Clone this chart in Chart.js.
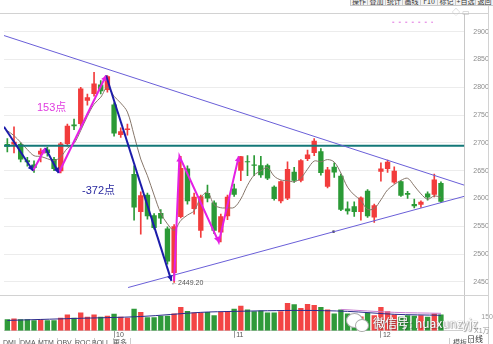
<!DOCTYPE html>
<html>
<head>
<meta charset="utf-8">
<script src="https://cdn.jsdelivr.net/npm/chart.js@4.4.0/dist/chart.umd.min.js"></script>
<style>
  html, body { margin: 0; padding: 0; background: #fff; }
  #wrap { position: relative; width: 493px; height: 344px; overflow: hidden;
          font-family: "Liberation Sans", Arial, "Noto Sans CJK SC", sans-serif; }
  canvas { position: absolute; left: 0; top: 0; }
  .tb { position: absolute; top: -4px; height: 10px; border: 1px solid #c9c9c9; background: #f3f3f3;
        font-size: 7px; line-height: 8px; text-align: center; color: #333; box-sizing: border-box;
        white-space: nowrap; overflow: hidden; font-family: "Noto Sans CJK SC", sans-serif; }
  .tab { position: absolute; top: 338px; height: 10px; font-size: 7px; line-height: 9px; color: #555;
         border-right: 1px solid #ccc; padding: 0 3px; box-sizing: border-box; white-space: nowrap; }
  .note { position: absolute; white-space: nowrap; font-family: "Liberation Sans", "Noto Sans CJK SC", sans-serif; }
  .wm { position: absolute; left: 373px; top: 314px; font-size: 12px; color: #fff; white-space: nowrap;
        font-family: "Noto Sans CJK SC", sans-serif; text-shadow: 0 0 1px #666, 1px 1px 1px rgba(0,0,0,0.35); }
  .logo { position: absolute; border-radius: 50%; background: #fff; border: 1px solid #aaa; }
</style>
</head>
<body>
<div id="wrap">
  <canvas id="chart" width="493" height="344"></canvas>

  <div class="tb" style="left:350px;width:18px">操作</div>
  <div class="tb" style="left:367px;width:19px">叠加</div>
  <div class="tb" style="left:385px;width:18px">统计</div>
  <div class="tb" style="left:402px;width:19px">画线</div>
  <div class="tb" style="left:420px;width:18px">F10</div>
  <div class="tb" style="left:437px;width:19px">标记</div>
  <div class="tb" style="left:455px;width:21px">+自选</div>
  <div class="tb" style="left:475px;width:19px">返回</div>

  <div class="note" style="left:452px;top:6px;font-size:8px;color:#bbb">◇ ▭</div>

  <div class="note" style="left:37px;top:98px;font-size:11px;color:#e03ce0">153点</div>
  <div class="note" style="left:82px;top:181px;font-size:11px;color:#2a2aa0">-372点</div>
  <div class="note" style="left:171px;top:279px;font-size:7px;color:#555">←2449.20</div>

  <div class="note" style="left:474px;top:325px;font-size:7px;color:#999">X1万</div>
  <div class="note" style="left:467px;top:333px;font-size:8px;color:#333;font-family:'Noto Sans CJK SC'">日线</div>

  <div class="tab" style="left:0px">DMI</div>
  <div class="tab" style="left:17px">DMA</div>
  <div class="tab" style="left:35px">MTM</div>
  <div class="tab" style="left:54px">OBV</div>
  <div class="tab" style="left:72px">ROC</div>
  <div class="tab" style="left:89px">BOLL</div>
  <div class="tab" style="left:110px;font-family:'Noto Sans CJK SC'">更多</div>
  <div class="tab" style="left:449px;border-left:1px solid #ccc;font-family:'Noto Sans CJK SC'">模板</div>

  <div class="logo" style="left:346px;top:313px;width:15px;height:13px"></div>
  <div class="logo" style="left:355px;top:319px;width:12px;height:11px"></div>
  <div class="wm">微信号: huaxunzyjz</div>
</div>

<script>
'use strict';

// ── DATA ─────────────────────────────────────────────────────

const DATES = [
  '09-06','09-07','09-10','09-11','09-12','09-13','09-14','09-17','09-18','09-19','09-20','09-21','09-25','09-26','09-27','09-28',
  '10-08','10-09','10-10','10-11','10-12','10-15','10-16','10-17','10-18','10-19','10-22','10-23','10-24','10-25','10-26','10-29','10-30','10-31',
  '11-01','11-02','11-05','11-06','11-07','11-08','11-09','11-12','11-13','11-14','11-15','11-16','11-19','11-20','11-21','11-22','11-23','11-26','11-27','11-28','11-29','11-30',
  '12-03','12-04','12-05','12-06','12-07','12-10','12-11','12-12','12-13','12-14',
];

const OPEN  = [2698,2697,2698,2669,2661,2679,2688,2671,2649,2698,2733,2734,2776,2788,2805,2795,
               2769,2714,2723,2644,2576,2607,2570,2574,2546,2466,2567,2654,2581,2542,2610,2593,2539,2568,
               2618,2650,2666,2661,2660,2660,2621,2595,2600,2648,2632,2671,2682,2685,2621,2657,2641,2582,2586,2576,2614,2566,
               2648,2653,2629,2631,2610,2590,2589,2609,2607,2628];
const HIGH  = [2708,2729,2700,2674,2668,2690,2692,2674,2701,2734,2743,2800,2788,2827,2812,2821.2,
               2772,2727,2734,2659,2612,2610,2573,2580,2549,2553,2676,2659,2610,2606,2624,2596,2572,2606,
               2626,2676,2677,2677,2676,2662,2623,2632,2666,2656,2670,2687,2708,2690,2656,2664,2644,2594,2594,2603,2616,2590,
               2664,2669,2657,2632,2613,2599,2596,2612,2644,2630];
const LOW   = [2684,2682,2666,2658,2647,2666,2676,2650,2646,2694,2724,2730,2768,2784,2788,2791,
               2712,2710,2714,2561,2536,2563,2545,2555,2482,2449.2,2565,2590,2572,2530,2594,2537,2522,2562,
               2604,2632,2641,2641,2638,2634,2597,2592,2598,2629,2630,2668,2677,2642,2619,2638,2578,2572,2568,2561,2566,2557,
               2631,2647,2627,2604,2600,2583,2584,2597,2603,2593];
const CLOSE = [2693,2702,2670,2665,2655,2686,2682,2653,2699,2731,2730,2798,2782,2807,2793,2820,
               2717,2721,2726,2584,2606,2568,2547,2564,2487,2550,2655,2595,2603,2604,2600,2542,2568,2603,
               2607,2676,2665,2659,2642,2636,2599,2631,2653,2632,2669,2679,2704,2646,2652,2647,2580,2577,2576,2602,2568,2588,
               2654,2666,2650,2605,2607,2586,2594,2602,2634,2594];

// 5-day average as plotted (thin line)
const MA5 = [2722,2713,2701,2688,2677,2675.6,2671.6,2668.2,2675,2690.2,2699,2722.2,2748,2769.6,2782,2800,
             2783.8,2771.6,2755.4,2713.6,2670.8,2641,2606.2,2573.8,2554.4,2543.2,2560.6,2570.2,2578,2601.4,2611.4,2588.8,2583.4,2583.4,
             2584,2599.2,2623.8,2642,2649.8,2655.6,2640.2,2633.4,2632.2,2630.2,2636.8,2652.8,2667.4,2666,2670,2665.6,2645.8,2620.4,2606.4,2596.4,2580.6,2582.2,
             2597.6,2615.6,2625.2,2632.6,2636.4,2622.8,2608.4,2598.8,2604.6,2602];

const VOLUME = [13100,13900,13100,13100,12000,13100,12000,12000,14700,18300,14700,20500,15800,18300,15800,16900,
                19100,15800,14700,24900,21200,15300,15300,16900,16900,19400,26700,22300,20500,20500,21200,17500,21200,22300,
                24900,28100,24100,21900,23000,20500,20500,21900,31400,30000,25600,30300,29200,26700,24100,19400,24100,19400,15800,16000,20500,17500,
                26700,21900,18300,15800,17500,16900,17500,15800,19400,18300];

const VOL_MA_A = [[0,11700],[10,13900],[20,16100],[29,20800],[34,21900],[44,23000],[51,21900],[58,18600],[65,17500]];
const VOL_MA_B = [[50,24100],[58,20800],[65,19700]];

const PRICE_TICKS = [2450,2475,2500,2525,2550,2575,2600,2625,2650,2675,2700,2725,2750,2775,2800,2825,2850,2875,2900];
const VOL_TICKS = [15000];

const UPPER_TREND = [[-0.5, 2893], [68.5, 2624]];
const LOWER_TREND = [[18.1, 2440], [68.5, 2604]];
const LEVEL_LINE = 2695;
const ANCHOR = [[48.9, 2540.3]];
const PINK_DASH = [[57.7, 2917], [63.8, 2917]];

const BLUE_LEGS = [
  [[-0.5, 2729], [3.85, 2650]],
  [[5.7, 2691], [7.7, 2646]],
  [[14.8, 2821.2], [24.6, 2452]],
];
const MAGENTA_LEGS = [
  [[3.85, 2650], [5.7, 2691]],
  [[7.7, 2646], [14.8, 2821.2]],
  [[25, 2452], [25.8, 2676], [31.7, 2521.6], [34.7, 2676]],
];

// ── STYLE ────────────────────────────────────────────────────

const RED = '#f23c3c';
const GREEN = '#2b9a36';
const AXIS_FONT = { family: 'Liberation Sans', size: 7 };

const up = i => CLOSE[i] >= OPEN[i];
const pts = arr => arr.map(([x, y]) => ({ x, y }));

const monthStarts = DATES.map((d, i) => i)
  .filter(i => i > 0 && DATES[i].slice(0, 2) !== DATES[i - 1].slice(0, 2));

// ── PLUGINS ──────────────────────────────────────────────────

const framePlugin = {
  id: 'frame',
  afterDraw(chart) {
    const { ctx, chartArea } = chart;
    const yv = chart.scales.yv;
    ctx.save();
    ctx.strokeStyle = '#d2d2d2';
    ctx.lineWidth = 1;
    ctx.beginPath();
    ctx.moveTo(0, Math.round(chartArea.top) + 0.5);
    ctx.lineTo(489, Math.round(chartArea.top) + 0.5);
    ctx.moveTo(0, Math.round(yv.top) + 0.5);
    ctx.lineTo(489, Math.round(yv.top) + 0.5);
    ctx.moveTo(488.5, 0);
    ctx.lineTo(488.5, 344);
    ctx.stroke();
    ctx.restore();
  },
};

const arrowPlugin = {
  id: 'arrows',
  afterDatasetsDraw(chart) {
    const ctx = chart.ctx;
    chart.data.datasets.forEach((ds, di) => {
      if (!ds.arrows) return;
      const p = chart.getDatasetMeta(di).data;
      ctx.save();
      ctx.fillStyle = ds.borderColor;
      for (let i = 1; i < p.length; i++) {
        const a = p[i - 1], b = p[i];
        const ang = Math.atan2(b.y - a.y, b.x - a.x);
        ctx.beginPath();
        ctx.moveTo(b.x, b.y);
        ctx.lineTo(b.x - 6 * Math.cos(ang - 0.5), b.y - 6 * Math.sin(ang - 0.5));
        ctx.lineTo(b.x - 6 * Math.cos(ang + 0.5), b.y - 6 * Math.sin(ang + 0.5));
        ctx.closePath();
        ctx.fill();
      }
      ctx.restore();
    });
  },
};

// ── DATASETS ─────────────────────────────────────────────────

const lineBase = { type: 'line', yAxisID: 'y', pointRadius: 0, fill: false, tension: 0 };

const datasets = [];

BLUE_LEGS.forEach(leg => datasets.push({
  ...lineBase, data: pts(leg), borderColor: '#1c1caa', borderWidth: 2, arrows: true, order: 0,
}));
MAGENTA_LEGS.forEach(leg => datasets.push({
  ...lineBase, data: pts(leg), borderColor: '#e420e4', borderWidth: 2, arrows: true, order: 0,
}));

datasets.push(
  { ...lineBase, data: pts(UPPER_TREND), borderColor: '#6a5fd8', borderWidth: 1, order: 1 },
  { ...lineBase, data: pts(LOWER_TREND), borderColor: '#6a5fd8', borderWidth: 1, order: 1 },
  { ...lineBase, data: pts(ANCHOR), pointRadius: 1.6, pointStyle: 'rect', pointBackgroundColor: '#222',
    pointBorderWidth: 0, showLine: false, order: 1 },
  { ...lineBase, data: pts(PINK_DASH), borderColor: '#e070e0', borderWidth: 1, borderDash: [2, 4.5], order: 1 },
  { ...lineBase, data: [{ x: -0.5, y: LEVEL_LINE }, { x: 68.5, y: LEVEL_LINE }],
    borderColor: '#137878', borderWidth: 2, order: 2 },
  { ...lineBase, data: MA5.map((v, i) => ({ x: i, y: v })), borderColor: '#86766a', borderWidth: 1,
    tension: 0.35, order: 3 },
  {
    type: 'bar', yAxisID: 'y', grouped: false, order: 4,
    data: DATES.map((d, i) => ({ x: i, y: [OPEN[i], CLOSE[i]] })),
    backgroundColor: c => up(c.dataIndex) ? RED : GREEN,
    categoryPercentage: 0.8, barPercentage: 1, minBarLength: 1, borderWidth: 0,
  },
  {
    type: 'bar', yAxisID: 'y', grouped: false, order: 5,
    data: DATES.map((d, i) => ({ x: i, y: [LOW[i], HIGH[i]] })),
    backgroundColor: c => up(c.dataIndex) ? RED : GREEN,
    barThickness: 1, borderWidth: 0,
  },
  {
    type: 'bar', yAxisID: 'yv', grouped: false, order: 7,
    data: VOLUME.map((v, i) => ({ x: i, y: v })),
    backgroundColor: c => up(c.dataIndex) ? '#f34545' : '#2f9a3a',
    categoryPercentage: 0.8, barPercentage: 1, borderWidth: 0,
  },
  { ...lineBase, yAxisID: 'yv', data: pts(VOL_MA_A), borderColor: '#2c2c8c', borderWidth: 1, tension: 0.3, order: 6 },
  { ...lineBase, yAxisID: 'yv', data: pts(VOL_MA_B), borderColor: '#c77ccf', borderWidth: 1, tension: 0.3, order: 6 },
);

// ── CHART ────────────────────────────────────────────────────

new Chart(document.getElementById('chart'), {
  type: 'bar',
  data: { datasets },
  plugins: [framePlugin, arrowPlugin],
  options: {
    responsive: false,
    animation: false,
    layout: { padding: { top: 6, left: 0, right: 0, bottom: 0 } },
    plugins: { legend: { display: false }, tooltip: { enabled: false } },
    scales: {
      x: {
        type: 'linear', position: 'bottom', min: -0.5, max: 68.5, offset: false,
        afterBuildTicks: s => { s.ticks = monthStarts.map(v => ({ value: v })); },
        afterFit: s => { s.height = 11; },
        grid: { offset: false, drawOnChartArea: false, drawTicks: true, tickLength: 7, color: '#9a9a9a' },
        border: { color: '#cfcfcf' },
        ticks: {
          font: AXIS_FONT, color: '#555', align: 'start', padding: -7, labelOffset: 2,
          maxRotation: 0, autoSkip: false,
          callback: v => String(parseInt(DATES[v].slice(0, 2), 10)),
        },
      },
      y: {
        position: 'right', stack: 'panes', stackWeight: 290,
        min: 2426.8, max: 2933.2,
        afterBuildTicks: s => { s.ticks = PRICE_TICKS.map(v => ({ value: v })); },
        afterFit: s => { s.width = 28.7; },
        grid: {
          drawTicks: false,
          color: c => (c.tick && c.tick.value % 50 === 0) ? '#ececec' : 'rgba(0,0,0,0)',
        },
        border: { color: '#c8c8c8' },
        ticks: { font: AXIS_FONT, color: '#8c8c8c', padding: 9, callback: v => String(v) },
      },
      yv: {
        position: 'right', stack: 'panes', stackWeight: 37,
        min: 0, max: 40500,
        afterBuildTicks: s => { s.ticks = VOL_TICKS.map(v => ({ value: v })); },
        afterFit: s => { s.width = 28.7; },
        grid: { display: false },
        border: { color: '#c8c8c8' },
        ticks: { font: AXIS_FONT, color: '#999', padding: 9, callback: v => String(v) },
      },
    },
  },
});
</script>
</body>
</html>
